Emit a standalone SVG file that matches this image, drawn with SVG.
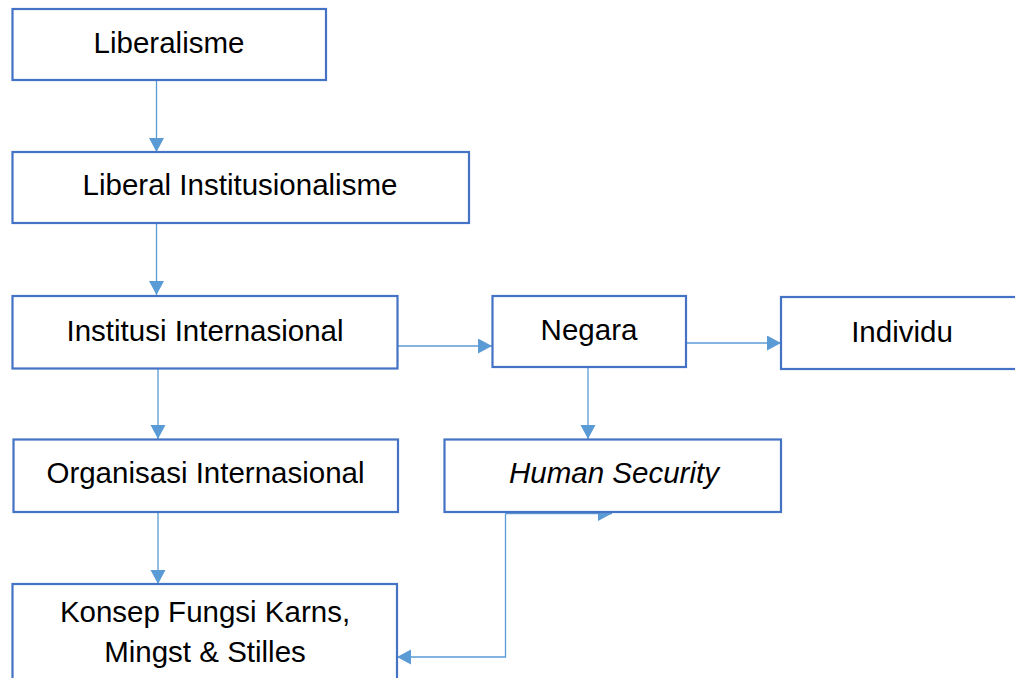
<svg xmlns="http://www.w3.org/2000/svg" width="1015" height="678" viewBox="0 0 1015 678">
<style>
.box{fill:#fff;stroke:#4472C4;stroke-width:2.2}
.lbl{font-family:"Liberation Sans",Arial,sans-serif;font-size:29.5px;fill:#000;text-anchor:middle}
.con{fill:none;stroke:#5B9BD5;stroke-width:1.3}
</style>
<defs>
<marker id="ah" markerUnits="userSpaceOnUse" markerWidth="15" markerHeight="16" refX="14" refY="7.5" orient="auto">
<path d="M0,0 L14,7.5 L0,15 z" fill="#5B9BD5"/>
</marker>
</defs>
<rect width="1015" height="678" fill="#fff"/>
<g id="connectors">
<path class="con" d="M156.5,81 V152" marker-end="url(#ah)"/>
<path class="con" d="M156.5,224 V295" marker-end="url(#ah)"/>
<path class="con" d="M158,369 V439" marker-end="url(#ah)"/>
<path class="con" d="M158,513 V584" marker-end="url(#ah)"/>
<path class="con" d="M398,346 H492" marker-end="url(#ah)"/>
<path class="con" d="M686,343 H781" marker-end="url(#ah)"/>
<path class="con" d="M588,368 V439" marker-end="url(#ah)"/>
<path class="con" d="M505.5,513.5 H612" marker-end="url(#ah)"/>
<path class="con" d="M505.5,513.5 V657 H397" marker-end="url(#ah)"/>
</g>
<g id="liberalisme">
<rect class="box" x="12.5" y="9" width="313.5" height="71"/>
<text class="lbl" x="169" y="53">Liberalisme</text>
</g>
<g id="liberal-institusionalisme">
<rect class="box" x="12.5" y="152" width="456.5" height="71"/>
<text class="lbl" x="240" y="195">Liberal Institusionalisme</text>
</g>
<g id="institusi-internasional">
<rect class="box" x="12.5" y="296" width="385" height="72.5"/>
<text class="lbl" x="205" y="341">Institusi Internasional</text>
</g>
<g id="organisasi-internasional">
<rect class="box" x="13.5" y="439.5" width="384.5" height="72.5"/>
<text class="lbl" x="205.5" y="483">Organisasi Internasional</text>
</g>
<g id="konsep">
<rect class="box" x="12.5" y="584" width="384.5" height="120"/>
<text class="lbl" x="205" y="622">Konsep Fungsi Karns,</text>
<text class="lbl" x="205" y="662">Mingst &amp; Stilles</text>
</g>
<g id="negara">
<rect class="box" x="492.5" y="296" width="193.5" height="71"/>
<text class="lbl" x="589" y="340">Negara</text>
</g>
<g id="individu">
<rect class="box" x="781" y="297" width="245" height="72"/>
<text class="lbl" x="902" y="342">Individu</text>
</g>
<g id="human-security">
<rect class="box" x="444.5" y="439.5" width="336.5" height="72.5"/>
<text class="lbl" x="614" y="483" font-style="italic">Human Security</text>
</g>
</svg>
